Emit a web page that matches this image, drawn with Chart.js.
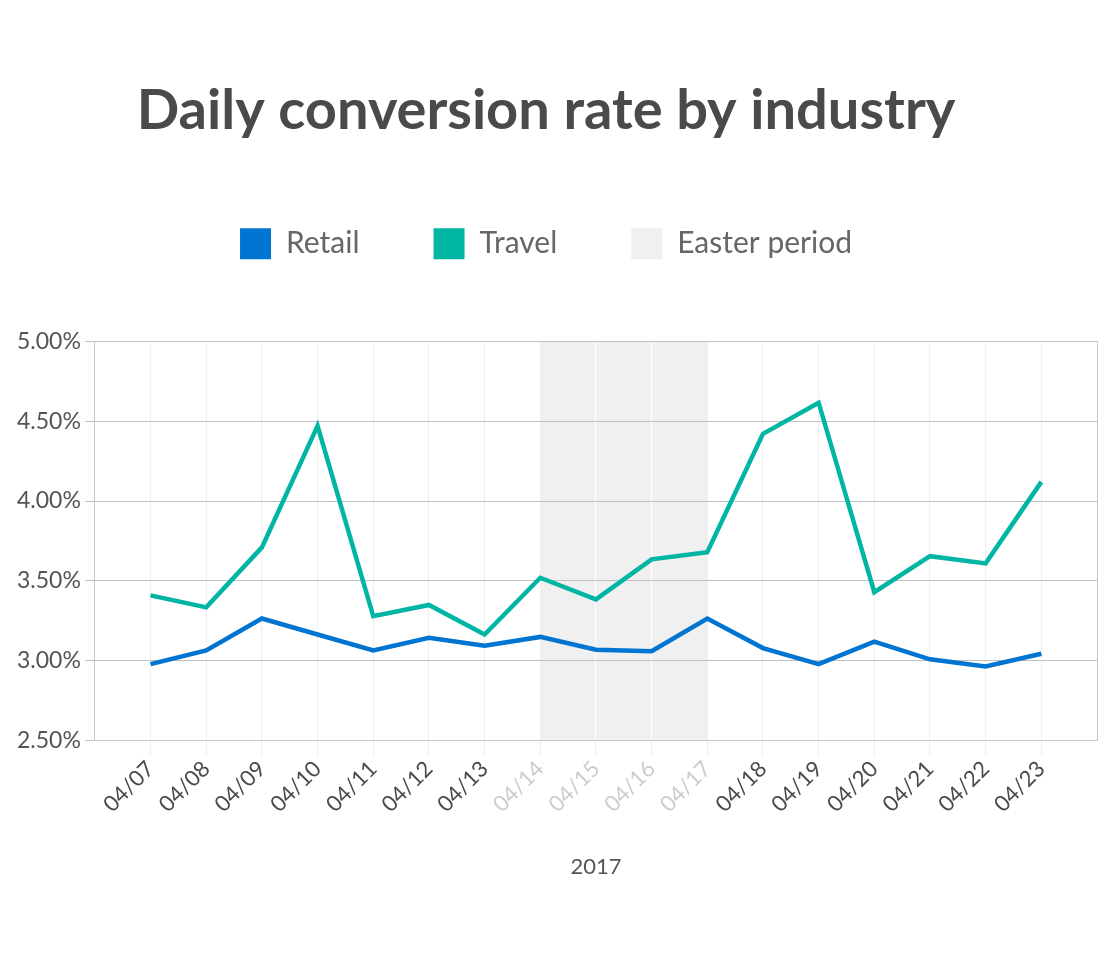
<!DOCTYPE html>
<html>
<head>
<meta charset="utf-8">
<script src="https://cdn.jsdelivr.net/npm/chart.js@4/dist/chart.umd.min.js"></script>
<style>
  html, body { margin: 0; padding: 0; background: #fff; }
  .container { width: 1110px; height: 961px; }
</style>
</head>
<body>
<div class="container"><canvas id="chart"></canvas></div>
<script>
const labels = ['04/07', '04/08', '04/09', '04/10', '04/11', '04/12', '04/13', '04/14', '04/15',
  '04/16', '04/17', '04/18', '04/19', '04/20', '04/21', '04/22', '04/23'];
const retailData = [2.98, 3.065, 3.265, 3.165, 3.065, 3.145, 3.095, 3.15, 3.07,
  3.06, 3.265, 3.08, 2.98, 3.12, 3.01, 2.965, 3.045];
const travelData = [3.41, 3.335, 3.71, 4.47, 3.28, 3.35, 3.165, 3.52, 3.385,
  3.635, 3.68, 4.42, 4.615, 3.43, 3.655, 3.61, 4.12];
const easterStart = '04/14';
const easterEnd = '04/17';

const FONT = 'Lato, "Open Sans", sans-serif';
const easterFrom = labels.indexOf(easterStart);
const easterTo = labels.indexOf(easterEnd);

// shade under the grid
const easterShade = {
  id: 'easterShade',
  beforeDraw(chart) {
    const x = chart.scales.x;
    const area = chart.chartArea;
    const ctx = chart.ctx;
    const x0 = x.getPixelForValue(easterFrom);
    const x1 = x.getPixelForValue(easterTo);
    ctx.save();
    ctx.fillStyle = '#f0f0f0';
    ctx.fillRect(x0, area.top, x1 - x0, area.bottom - area.top);
    ctx.restore();
  }
};

// extra room under the legend, and title/legend nudged left a bit
const legendGap = {
  id: 'legendGap',
  beforeInit(chart) {
    const fit = chart.legend.fit;
    chart.legend.fit = function() {
      fit.bind(chart.legend)();
      this.height += 72;
    };
  },
  afterLayout(chart) {
    [chart.titleBlock, chart.legend].forEach(b => {
      b.left -= 9;
      b.right -= 9;
    });
  }
};

const toPoints = arr => arr.map((v, i) => ({x: i, y: v}));

const canvas = document.getElementById('chart');
new Chart(canvas, {
  type: 'line',
  data: {
    datasets: [{
      label: 'Retail',
      data: toPoints(retailData),
      borderColor: '#0074d1',
      backgroundColor: '#0074d1',
      borderWidth: 4.5,
      pointRadius: 0,
      tension: 0
    }, {
      label: 'Travel',
      data: toPoints(travelData),
      borderColor: '#00b5a3',
      backgroundColor: '#00b5a3',
      borderWidth: 4.5,
      pointRadius: 0,
      tension: 0
    }]
  },
  options: {
    responsive: true,
    maintainAspectRatio: false,
    animation: false,
    layout: { padding: { left: 13, right: 13, bottom: 77 } },
    plugins: {
      tooltip: { enabled: false },
      title: {
        display: true,
        text: 'Daily conversion rate by industry',
        color: '#4a4a4a',
        font: { family: FONT, size: 56, weight: 'bold' },
        padding: { top: 77, bottom: 10 }
      },
      legend: {
        display: true,
        labels: {
          color: '#666',
          font: { family: FONT, size: 30 },
          boxWidth: 31,
          boxHeight: 31,
          padding: 74,
          generateLabels(chart) {
            const items = chart.data.datasets.map((ds, i) => ({
              text: ds.label,
              fillStyle: ds.borderColor,
              strokeStyle: ds.borderColor,
              lineWidth: 0,
              fontColor: '#666',
              datasetIndex: i
            }));
            items.push({ text: 'Easter period', fillStyle: '#f0f0f0', strokeStyle: '#f0f0f0', lineWidth: 0, fontColor: '#666' });
            return items;
          }
        },
        onClick() {}
      }
    },
    scales: {
      x: {
        type: 'linear',
        min: -1,
        max: labels.length,
        afterFit(scale) {
          scale.paddingRight = 0;
        },
        border: { display: true, color: '#c8c8c8', width: 1 },
        grid: {
          color: ctx => {
            const v = ctx.tick ? ctx.tick.value : null;
            if (v === -1 || v === labels.length) return '#c8c8c8';
            if (v > easterFrom && v < easterTo) return '#ffffff';
            return '#efefef';
          },
          tickColor: ctx => {
            const v = ctx.tick ? ctx.tick.value : null;
            return (v === -1 || v === labels.length) ? 'rgba(0,0,0,0)' : '#efefef';
          },
          tickLength: 15,
          drawOnChartArea: true
        },
        ticks: {
          stepSize: 1,
          autoSkip: false,
          maxRotation: 45,
          minRotation: 45,
          padding: 0,
          color: ctx => (ctx.tick.value >= easterFrom && ctx.tick.value <= easterTo) ? '#cccccc' : '#4a4a4a',
          font: { family: FONT, size: 22 },
          callback: v => labels[v] || ''
        },
        title: {
          display: true,
          text: '2017',
          color: '#555',
          font: { family: FONT, size: 22 },
          padding: { top: 36 }
        }
      },
      y: {
        min: 2.5,
        max: 5,
        border: { display: true, color: '#c8c8c8', width: 1 },
        grid: { color: '#c0c0c0', tickLength: 10 },
        ticks: {
          stepSize: 0.5,
          color: '#555',
          padding: 4,
          font: { family: FONT, size: 23 },
          callback: v => v.toFixed(2) + '%'
        }
      }
    }
  },
  plugins: [easterShade, legendGap]
});
</script>
</body>
</html>
